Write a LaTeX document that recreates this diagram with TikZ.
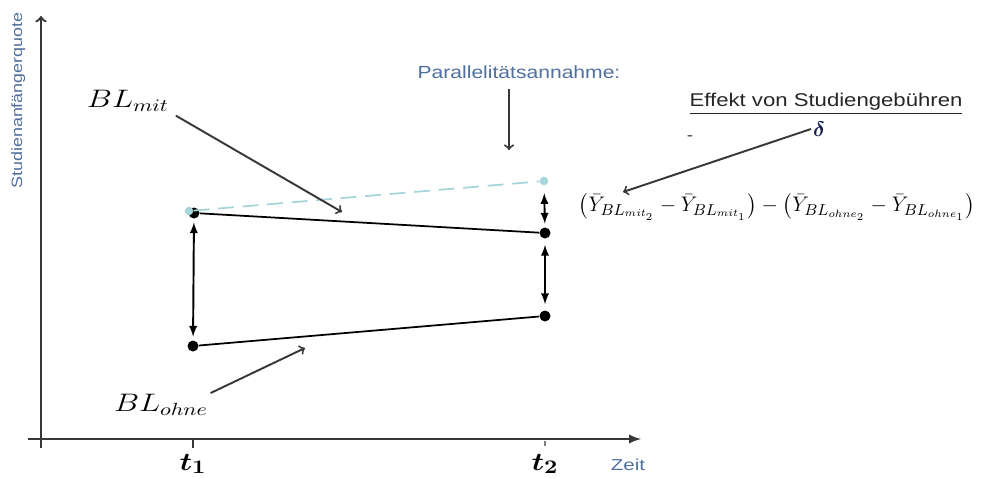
\documentclass[tikz,border=0pt]{standalone}
\usepackage{fontspec}
\usepackage{amsmath}
\usepackage{graphicx}
\usetikzlibrary{arrows, positioning, calc}
\newfontfamily\labelfont[FakeStretch=1.2]{Liberation Sans}
\definecolor{labelblue}{RGB}{79, 111, 158}
\definecolor{paracyan}{RGB}{165, 212, 218}
\definecolor{darkgray}{RGB}{55, 55, 55}
\definecolor{deltanavy}{RGB}{20, 30, 80}
\newcommand{\wide}[2][1.25]{\scalebox{#1}[1]{#2}}

\begin{document}
\begin{tikzpicture}[
    x=0.02cm, y=-0.02cm,
    axis/.style={line width=1.3pt, draw=darkgray},
    dot/.style={circle, fill=black, inner sep=0pt, minimum size=0.22cm},
    pdot/.style={circle, fill=paracyan, inner sep=0pt, minimum size=0.17cm},
    trend/.style={line width=1pt, draw=black},
    partrend/.style={line width=1pt, draw=paracyan, dash pattern=on 9pt off 5pt},
    span/.style={<->, >=latex, line width=1.1pt, shorten <=0.07cm, shorten >=0.07cm},
    pointer/.style={->, >=to, line width=1.1pt, draw=darkgray},
    bllabel/.style={font=\fontsize{14}{16}\selectfont, inner sep=0pt},
    bluetext/.style={font=\labelfont\fontsize{10}{12}\selectfont, text=labelblue, inner sep=0pt}
]
\useasboundingbox (0,0) rectangle (989,477);

% axes
\coordinate (origin) at (41,439);
\coordinate (xstart) at (28,439);
\coordinate (xend) at (641,439);
\coordinate (ystart) at (41,448);
\coordinate (yend) at (41,16);
\draw [axis, -latex] (xstart) -- (xend);
\draw [axis, ->, >=to] (ystart) -- (yend);
\node (ylabel) [bluetext, font=\labelfont\fontsize{8.5}{10}\selectfont, rotate=90, anchor=north east] at (11,12) {Studienanfängerquote};
\node (zeit) [bluetext, font=\labelfont\fontsize{9}{11}\selectfont\addfontfeature{FakeStretch=1.3}] at (628,465) {Zeit};

% time points
\coordinate (tick1) at (193,439);
\coordinate (tick2) at (545,441);
\draw [axis] (tick1) -- ++(0,9);
\draw [gray, line width=0.6pt] (tick2) -- ++(0,5);
\node (t1) [inner sep=0pt] at (193,464) {\wide[1.2]{\fontsize{15}{17}\selectfont\boldmath$t_1$}};
\node (t2) [inner sep=0pt] at (545,464) {\wide[1.2]{\fontsize{15}{17}\selectfont\boldmath$t_2$}};

% data points
\node (mit1) [dot] at (194,213) {};
\node (mit2) [dot] at (545,233) {};
\node (ohne1) [dot] at (193,346) {};
\node (ohne2) [dot] at (545,316) {};
\node (par1) [pdot] at (189,211) {};
\node (par2) [pdot] at (544,181) {};

\draw [partrend] (par1) -- (par2);
\draw [trend] (mit1) -- (mit2);
\draw [trend] (ohne1) -- (ohne2);
\draw [span] (mit1) -- (ohne1);
\draw [span, shorten <=0.15cm] (par2) -- (mit2);
\draw [span, shorten <=0.12cm, shorten >=0.12cm] (mit2) -- (ohne2);

% labels
\node (blmit) [bllabel] at (128,101) {\wide{$BL_{mit}$}};
\node (blohne) [bllabel] at (161,405) {\wide{$BL_{ohne}$}};
\coordinate (mittip) at (342,212);
\coordinate (ohnetip) at (305,348);
\draw [pointer, shorten <=0.15cm] (blmit.south east) -- (mittip);
\draw [pointer, shorten <=0.05cm] (blohne.north east) -- (ohnetip);

\node (partext) [bluetext] at (519,72) {Parallelitätsannahme:};
\coordinate (partip) at (509,150);
\draw [pointer, shorten <=0.2cm] (partext.south -| partip) -- (partip);

\node (effekt) [font=\labelfont\fontsize{10.5}{12}\selectfont, text=black!85, inner sep=0pt] at (826,104) {\underline{Effekt von Studiengebühren}};
\node (hyphen) [font=\labelfont\fontsize{9}{10}\selectfont, text=darkgray] at (690,138) {{-}};
\node (deltasym) [font=\fontsize{12}{14}\selectfont, text=deltanavy, inner sep=1pt] at (819,129) {{\boldmath$\delta$}};
\node (formula) [font=\fontsize{12.8}{15}\selectfont, inner sep=0pt] at (777,207)
  {$\left(\bar{Y}_{BL_{mit_2}} - \bar{Y}_{BL_{mit_1}}\right) - \left(\bar{Y}_{BL_{ohne_2}} - \bar{Y}_{BL_{ohne_1}}\right)$};
\coordinate (deltatip) at (623,192);
\draw [pointer] (deltasym.west) -- (deltatip);

\end{tikzpicture}
\end{document}
